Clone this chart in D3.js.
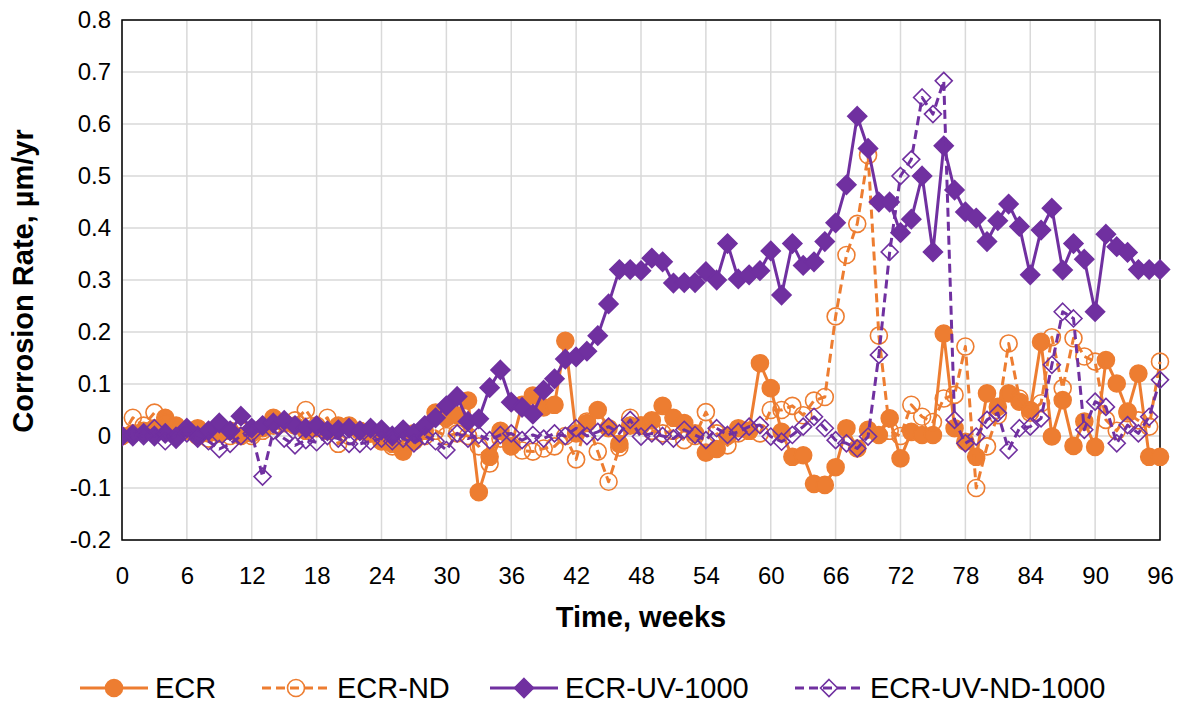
<!DOCTYPE html>
<html><head><meta charset="utf-8">
<script src="https://cdn.jsdelivr.net/npm/d3@7"></script>
<style>body{margin:0;background:#fff;} svg{display:block;} text{font-family:"Liberation Sans",Arial,sans-serif;}</style>
</head><body><svg id="c" width="1185" height="707"></svg>
<script>
const weeks = d3.range(0, 97);
const xTicks = d3.range(0, 97, 6);
const yTicks = [-0.2,-0.1,0,0.1,0.2,0.3,0.4,0.5,0.6,0.7,0.8];
const seriesNames = ["ECR","ECR-ND","ECR-UV-1000","ECR-UV-ND-1000"];
const ecr = [0.0,0.005,0.01,0.015,0.035,0.02,0.01,0.015,0.005,0.005,0.01,0.0,0.005,0.015,0.035,0.025,0.02,0.01,0.015,0.01,0.02,0.02,0.01,0.005,-0.01,-0.015,-0.03,-0.01,0.01,0.045,0.035,0.04,0.068,-0.108,-0.04,0.01,-0.02,0.06,0.078,0.055,0.06,0.183,0.005,0.025,0.05,0.015,-0.015,0.02,0.02,0.03,0.058,0.035,0.025,0.005,-0.032,-0.025,0.0,0.015,0.01,0.14,0.092,0.008,-0.04,-0.037,-0.092,-0.094,-0.06,0.015,-0.024,0.012,0.002,0.034,-0.043,0.008,0.002,0.002,0.197,0.015,-0.011,-0.04,0.082,0.056,0.082,0.066,0.05,0.181,-0.001,0.069,-0.019,0.028,-0.021,0.146,0.101,0.047,0.12,-0.04,-0.04];
const ecrNd = [0.0,0.035,0.02,0.045,0.025,0.01,0.01,0.0,-0.005,0.005,0.0,0.01,0.0,0.01,0.02,0.025,0.03,0.05,0.02,0.035,-0.015,0.0,0.01,0.005,-0.01,-0.02,-0.01,0.005,0.0,0.01,0.0,0.005,0.0,-0.02,-0.053,-0.005,-0.014,-0.028,-0.03,-0.024,-0.02,0.0,-0.045,0.028,-0.03,-0.088,-0.022,0.035,0.02,0.01,0.005,0.01,-0.008,0.0,0.046,0.005,-0.018,0.005,0.01,0.005,0.05,0.05,0.058,0.04,0.068,0.075,0.23,0.348,0.408,0.54,0.193,0.01,0.0,0.06,0.037,0.027,0.072,0.079,0.172,-0.1,-0.02,0.04,0.178,0.072,0.045,0.063,0.19,0.092,0.188,0.153,0.143,0.031,0.01,0.044,0.03,0.018,0.143];
const ecrUv = [0.0,0.0,0.005,0.0,0.005,-0.005,0.015,0.0,0.01,0.025,0.01,0.038,0.015,0.02,0.025,0.03,0.02,0.015,0.02,0.01,0.012,0.015,0.01,0.015,0.012,0.0,0.012,0.005,0.02,0.035,0.058,0.076,0.028,0.033,0.093,0.127,0.065,0.055,0.042,0.088,0.11,0.148,0.152,0.163,0.193,0.254,0.32,0.32,0.318,0.342,0.335,0.294,0.295,0.295,0.316,0.3,0.37,0.302,0.31,0.318,0.356,0.271,0.37,0.328,0.335,0.374,0.41,0.483,0.615,0.553,0.45,0.45,0.391,0.417,0.5,0.354,0.558,0.473,0.431,0.419,0.374,0.414,0.446,0.403,0.31,0.396,0.438,0.319,0.37,0.34,0.239,0.388,0.364,0.353,0.32,0.32,0.32];
const ecrUvNd = [0.0,0.005,0.0,0.015,-0.01,0.0,0.005,-0.005,-0.01,-0.025,-0.015,0.0,0.005,-0.078,0.01,-0.005,-0.018,-0.008,-0.012,0.0,-0.005,-0.015,-0.015,-0.01,-0.005,-0.01,-0.005,-0.014,0.0,-0.01,-0.027,0.005,-0.005,0.002,-0.008,0.002,0.005,-0.008,0.002,-0.005,0.005,0.0,0.015,0.0,0.008,0.018,0.005,0.031,-0.001,0.005,0.0,-0.005,0.012,0.002,-0.008,0.015,0.002,0.008,0.018,0.021,-0.001,-0.011,0.002,0.018,0.037,0.015,-0.008,-0.014,-0.024,-0.001,0.156,0.354,0.5,0.532,0.651,0.619,0.683,0.031,-0.014,-0.001,0.031,0.044,-0.027,0.015,0.018,0.034,0.137,0.239,0.226,0.012,0.066,0.056,-0.014,0.021,0.005,0.037,0.108];

const ORANGE = "#ED7D31", PURPLE = "#7030A0";
const styles = [
  {data: ecr, color: ORANGE, dash: null, marker: "circle", fill: true},
  {data: ecrNd, color: ORANGE, dash: "9,5", marker: "circle", fill: false},
  {data: ecrUv, color: PURPLE, dash: null, marker: "diamond", fill: true},
  {data: ecrUvNd, color: PURPLE, dash: "9,5", marker: "diamond", fill: false}
];

const L = 122, R = 1160, T = 20, B = 540;
const x = d3.scaleLinear().domain([0, 96]).range([L, R]);
const y = d3.scaleLinear().domain([-0.2, 0.8]).range([B, T]);
const svg = d3.select("#c");

svg.append("defs").append("clipPath").attr("id","pc").append("rect")
  .attr("x", L).attr("y", 0).attr("width", R - L + 20).attr("height", 707);

// gridlines
const grid = svg.append("g").attr("stroke", "#d9d9d9").attr("stroke-width", 1.5);
yTicks.forEach(t => grid.append("line").attr("x1", L).attr("x2", R).attr("y1", y(t)).attr("y2", y(t)));
xTicks.forEach(t => grid.append("line").attr("y1", T).attr("y2", B).attr("x1", x(t)).attr("x2", x(t)));

// axes (labels only)
const xAxis = d3.axisBottom(x).tickValues(xTicks).tickSize(0).tickPadding(27).tickFormat(d3.format("d"));
const gx = svg.append("g").attr("transform", `translate(0,${B})`).call(xAxis);
gx.select(".domain").remove();
gx.selectAll("text").attr("font-size", 24).attr("fill", "#000").style("font-family", "Liberation Sans, Arial");
const yAxis = d3.axisLeft(y).tickValues(yTicks).tickSize(0).tickPadding(11)
  .tickFormat(d => d === 0 ? "0" : (d < 0 ? "-" : "") + Math.abs(d).toFixed(1));
const gy = svg.append("g").attr("transform", `translate(${L},0)`).call(yAxis);
gy.select(".domain").remove();
gy.selectAll("text").attr("font-size", 24).attr("fill", "#000").style("font-family", "Liberation Sans, Arial");

// frame
svg.append("rect").attr("x", L).attr("y", T).attr("width", R - L).attr("height", B - T)
  .attr("fill", "none").attr("stroke", "#000").attr("stroke-width", 1.5);

const diamond = (r) => `M0,${-r}L${r},0L0,${r}L${-r},0Z`;
function drawMarker(g, s, cx, cy) {
  if (s.marker === "circle") {
    g.append("circle").attr("cx", cx).attr("cy", cy).attr("r", 8.5)
      .attr("fill", s.fill ? s.color : "none").attr("stroke", s.color).attr("stroke-width", 1.6);
  } else {
    const r = s.fill ? 9.5 : 8.5;
    g.append("path").attr("d", diamond(r)).attr("transform", `translate(${cx},${cy})`)
      .attr("fill", s.fill ? s.color : "none").attr("stroke", s.color).attr("stroke-width", 1.6);
  }
}

const plot = svg.append("g").attr("clip-path", "url(#pc)");
const line = d3.line().x((d, i) => x(weeks[i])).y(d => y(d));
styles.forEach(s => {
  const g = plot.append("g");
  g.append("path").datum(s.data).attr("d", line).attr("fill", "none")
    .attr("stroke", s.color).attr("stroke-width", 3).attr("stroke-dasharray", s.dash)
    .attr("stroke-linejoin", "round");
  s.data.forEach((v, i) => drawMarker(g, s, x(weeks[i]), y(v)));
});

// axis titles
svg.append("text").attr("x", 641).attr("y", 627).attr("text-anchor", "middle")
  .attr("font-size", 29).attr("font-weight", "bold").text("Time, weeks");
svg.append("text").attr("transform", "translate(33,281) rotate(-90)").attr("text-anchor", "middle")
  .attr("font-size", 29).attr("font-weight", "bold").text("Corrosion Rate, µm/yr");

// legend
const legX = [80, 262, 490, 795];
const ly = 688;
styles.forEach((s, i) => {
  const g = svg.append("g");
  g.append("line").attr("x1", legX[i]).attr("x2", legX[i] + 68).attr("y1", ly).attr("y2", ly)
    .attr("stroke", s.color).attr("stroke-width", 3).attr("stroke-dasharray", s.dash);
  drawMarker(g, s, legX[i] + 34, ly);
  g.append("text").attr("x", legX[i] + 75).attr("y", ly + 10).attr("font-size", 29).text(seriesNames[i]);
});
</script></body></html>
